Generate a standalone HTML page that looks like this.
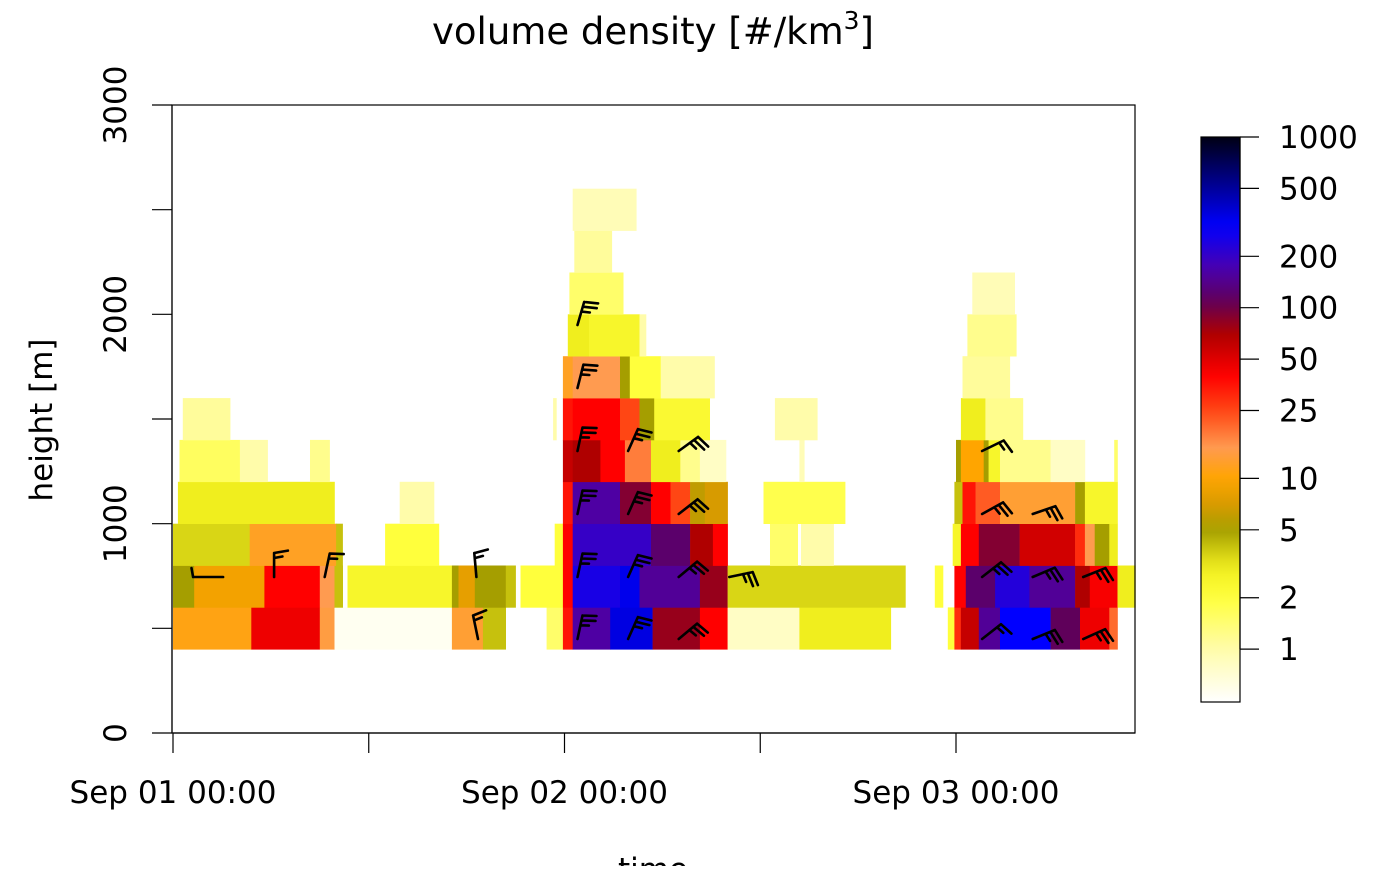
<!DOCTYPE html>
<html><head><meta charset="utf-8"><style>
html,body{margin:0;padding:0;background:#fff;}
svg text{font-family:"DejaVu Sans","Liberation Sans",sans-serif;fill:#000;}
</style></head><body>
<svg id="chart" xmlns="http://www.w3.org/2000/svg" width="1400" height="866" viewBox="0 0 1400 866">
<g id="heat"></g>
<g id="barbs" stroke="#000" stroke-width="2.6" fill="none" stroke-linecap="round"></g>
<rect x="172" y="105" width="963" height="628" fill="none" stroke="#000" stroke-width="1.2"/>
<g id="axes"></g>
<text x="653" y="44" font-size="37" text-anchor="middle">volume density [#/km<tspan font-size="25" dy="-15">3</tspan><tspan dy="15">]</tspan></text>
<text transform="translate(52,420) rotate(-90)" font-size="31" text-anchor="middle">height [m]</text>
<text x="653" y="880" font-size="31" text-anchor="middle">time</text>
<defs><linearGradient id="cbg" x1="0" y1="1" x2="0" y2="0"></linearGradient></defs>
<g id="cbar"></g>
</svg>
<script>
// data: rows of 200 m height bins starting at 400 m; segments [startHour, endHour, density]
const rowBottoms = [400,600,800,1000,1200,1400,1600,1800,2000,2200,2400];
const row0 = [[0,4.8,11],[4.8,9,45],[9,9.9,14],[9.9,17.1,0.55],[17.1,19,13],[19,20.4,4],[22.9,23.9,1.5],[23.9,24.5,35],[24.5,26.8,160],[26.8,29.4,350],[29.4,32.3,80],[32.3,34,40],[34,38.4,0.8],[38.4,44,3],[47.5,47.9,2],[47.9,48.3,30],[48.3,49.4,60],[49.4,50.7,150],[50.7,53.8,300],[53.8,55.6,110],[55.6,57.4,45],[57.4,57.9,20]];
const row1 = [[0,1.3,5],[1.3,5.6,9],[5.6,9,40],[9,9.9,15],[9.9,10.4,4],[10.7,17.1,2.5],[17.1,17.5,5],[17.5,18.5,8],[18.5,20.4,5],[20.4,21,4],[21.3,23.9,2],[23.9,24.5,40],[24.5,27.4,250],[27.4,28.6,330],[28.6,32.3,150],[32.3,34,80],[34,44.9,3.5],[46.7,47.2,2],[47.9,48.6,40],[48.6,50.4,120],[50.4,52.5,230],[52.5,55.3,150],[55.3,56.2,70],[56.2,57.9,42],[57.9,59,3]];
const row2 = [[0,4.7,3.5],[4.7,10,12],[10,10.4,4],[13,16.3,2],[23.4,23.9,2],[23.9,24.5,40],[24.5,29.3,200],[29.3,31.7,120],[31.7,33.1,70],[33.1,34,40],[36.6,38.3,1.5],[38.5,40.5,1],[47.8,48.3,2.5],[48.3,49.4,40],[49.4,51.9,90],[51.9,55.3,55],[55.3,55.9,30],[55.9,56.5,15],[56.5,57.4,5],[57.4,57.9,3]];
const row3 = [[0.3,9.9,3],[13.9,16,1],[23.9,24.5,35],[24.5,27.4,160],[27.4,29.3,90],[29.3,30.5,40],[30.5,31.7,25],[31.7,32.6,6],[32.6,34,7],[36.2,41.2,1.8],[47.9,48.4,4],[48.4,49.2,35],[49.2,50.7,22],[50.7,55.3,13],[55.3,55.9,5],[55.9,57.9,2.5]];
const row4 = [[0.4,4.1,1.6],[4.1,5.8,1],[8.4,9.6,1.2],[23.9,24.5,60],[24.5,26.2,70],[26.2,27.7,40],[27.7,29.3,18],[29.3,31.1,3],[31.1,32.3,1.2],[32.3,33.9,0.8],[38.4,38.7,0.9],[48,48.3,5],[48.3,49.7,10],[49.7,50,5],[50,50.7,2.5],[50.7,53.8,1.2],[53.8,55.9,0.8],[57.7,57.9,1.5]];
const row5 = [[0.6,3.5,1.1],[23.3,23.5,1],[23.9,24.5,35],[24.5,27.4,40],[27.4,28.6,25],[28.6,29.5,5],[29.5,32.9,2.3],[36.9,39.5,1],[48.3,49.8,3],[49.8,52.1,1.2]];
const row6 = [[23.9,24.5,12],[24.5,27.4,15],[27.4,28,5],[28,29.9,2],[29.9,33.2,1],[48.4,51.3,1.1]];
const row7 = [[24.2,25.5,3],[25.5,28.6,2.5],[28.6,29,1],[48.7,51.7,1.2]];
const row8 = [[24.3,27.6,1.5],[49,51.6,0.9]];
const row9 = [[24.6,26.9,1.1]];
const row10 = [[24.5,28.4,0.9]];
const rows = [row0,row1,row2,row3,row4,row5,row6,row7,row8,row9,row10];
// wind barbs: hour, height (m), staff angle (deg from north, clockwise), barb count
const barbHours = [3.07,6.2,9.3,18.6,18.7, 24.8,24.8,24.8,24.8,24.8,24.8, 27.9,27.9,27.9,27.9, 31,31,31,31, 34.1, 49.6,49.6,49.6,49.6, 52.7,52.7,52.7, 55.8,55.8];
const barbHeights = [745,745,745,745,449, 449,745,1046,1347,1648,1949, 449,745,1046,1347, 449,745,1046,1347, 745, 449,745,1046,1347, 449,745,1046, 449,745];
const barbAngles = [-90,0,12,-5,-12, 12,12,12,12,14,16, 24,24,24,24, 50,50,52,54, 78, 52,52,61,64, 68,67,71, 66,68];
const barbCounts = [1,2,2,2,2, 3,3,3,3,3,3, 3,3,3,3, 3,3,3,3, 3, 2,3,3,2, 3,3,3, 3,3];
const yTicks = [0,500,1000,1500,2000,2500,3000];
const yTickLabels = ["0","","1000","","2000","","3000"];
const xTickHours = [0,12,24,36,48];
const xTickLabels = ["Sep 01 00:00","","Sep 02 00:00","","Sep 03 00:00"];
const cbValues = [1000,500,200,100,50,25,10,5,2,1];

const NS="http://www.w3.org/2000/svg";
const X0=173, PXH=391.5/24;
const xs = h => X0 + h*PXH;
const ys = m => 733 - m*628/3000;
const VMIN=0.49, VMAX=1000;
const tOf = v => (Math.log10(v)-Math.log10(VMIN))/(Math.log10(VMAX)-Math.log10(VMIN));
const stops = [[0.49,[255,255,255]],[1,[255,252,170]],[2,[255,255,60]],[3,[240,238,30]],[5,[165,158,0]],[7,[215,155,0]],[10,[255,165,0]],[15,[255,155,80]],[25,[255,70,20]],[40,[255,0,0]],[70,[175,0,0]],[110,[95,0,90]],[170,[75,0,175]],[300,[0,0,255]],[600,[0,0,120]],[1000,[0,0,20]]];
function color(v){
  if(v<=stops[0][0]) return 'rgb(255,255,255)';
  for(let i=1;i<stops.length;i++){
    if(v<=stops[i][0]){
      const a=tOf(stops[i-1][0]), b=tOf(stops[i][0]), f=(tOf(v)-a)/(b-a);
      const c=stops[i-1][1].map((c0,k)=>Math.round(c0+(stops[i][1][k]-c0)*f));
      return `rgb(${c[0]},${c[1]},${c[2]})`;
    }
  }
  return 'rgb(0,0,20)';
}
function mk(tag,attrs,parent){const e=document.createElementNS(NS,tag);for(const k in attrs)e.setAttribute(k,attrs[k]);parent.appendChild(e);return e;}

const heat=document.getElementById('heat');
rows.forEach((segs,ri)=>{
  const yb=ys(rowBottoms[ri]), yt=ys(rowBottoms[ri]+200);
  segs.forEach(s=>{
    const r=mk('rect',{x:xs(s[0]).toFixed(1),y:yt.toFixed(1),width:(xs(s[1])-xs(s[0])+0.3).toFixed(1),height:(yb-yt+0.3).toFixed(1),fill:color(s[2])},heat);
    
    
  });
});

const barbs=document.getElementById('barbs');
barbHours.forEach((h,i)=>{
  const bx=xs(h), by=ys(barbHeights[i]);
  const a=barbAngles[i]*Math.PI/180, L=(barbAngles[i]===-90)?30:24;
  const tx=bx+Math.sin(a)*L, ty=by-Math.cos(a)*L;
  let d=`M${bx.toFixed(1)},${by.toFixed(1)}L${tx.toFixed(1)},${ty.toFixed(1)}`;
  const ba=a+Math.PI*80/180, bl=(barbAngles[i]===-90)?9:14;
  for(let k=0;k<barbCounts[i];k++){
    const px=tx-Math.sin(a)*k*5, py=ty+Math.cos(a)*k*5;
    const f=(k===barbCounts[i]-1&&k>0)?0.6:1;
    d+=`M${px.toFixed(1)},${py.toFixed(1)}l${(Math.sin(ba)*bl*f).toFixed(1)},${(-Math.cos(ba)*bl*f).toFixed(1)}`;
  }
  const p=mk('path',{d:d},barbs);
  
  
});

const axes=document.getElementById('axes');
const yl=mk('line',{x1:172,y1:ys(0),x2:172,y2:ys(3000),stroke:'#000','stroke-width':1.2},axes);


yTicks.forEach((v,i)=>{
  const t=mk('line',{x1:152,x2:172,y1:ys(v),y2:ys(v),stroke:'#000','stroke-width':1.2},axes);
  
  
  if(yTickLabels[i]){
    const tx=mk('text',{transform:`translate(126,${ys(v)}) rotate(-90)`,'font-size':31,'text-anchor':'middle'},axes);
    tx.textContent=yTickLabels[i];
    
    
  }
});
const xl=mk('line',{x1:xs(0),y1:733,x2:1135,y2:733,stroke:'#000','stroke-width':1.2},axes);


xTickHours.forEach((h,i)=>{
  const t=mk('line',{x1:xs(h),x2:xs(h),y1:733,y2:753,stroke:'#000','stroke-width':1.2},axes);
  
  
  if(xTickLabels[i]){
    const tx=mk('text',{x:xs(h),y:803,'font-size':31,'text-anchor':'middle'},axes);
    tx.textContent=xTickLabels[i];
    
    
  }
});

// colorbar
const grad=document.getElementById('cbg');
for(let i=0;i<=40;i++){
  const t=i/40, v=Math.pow(10,Math.log10(VMIN)+t*(Math.log10(VMAX)-Math.log10(VMIN)));
  mk('stop',{offset:t,'stop-color':color(v)},grad);
}
const cb=document.getElementById('cbar');
const CBT=137, CBB=702;
const cby = v => CBB - tOf(v)*(CBB-CBT);
const cr=mk('rect',{x:1201,y:CBT,width:39,height:CBB-CBT,fill:'url(#cbg)',stroke:'#000','stroke-width':1.2},cb);


cbValues.forEach(v=>{
  const y=cby(v);
  const t=mk('line',{x1:1240,x2:1259,y1:y,y2:y,stroke:'#000','stroke-width':1.2},cb);
  
  
  const tx=mk('text',{x:1279,y:y+11,'font-size':31},cb);
  tx.textContent=String(v);
  
  
});
const cbl=mk('line',{x1:1240,x2:1240,y1:cby(1000),y2:cby(1),stroke:'#000','stroke-width':1.2},cb);


</script>
</body></html>
